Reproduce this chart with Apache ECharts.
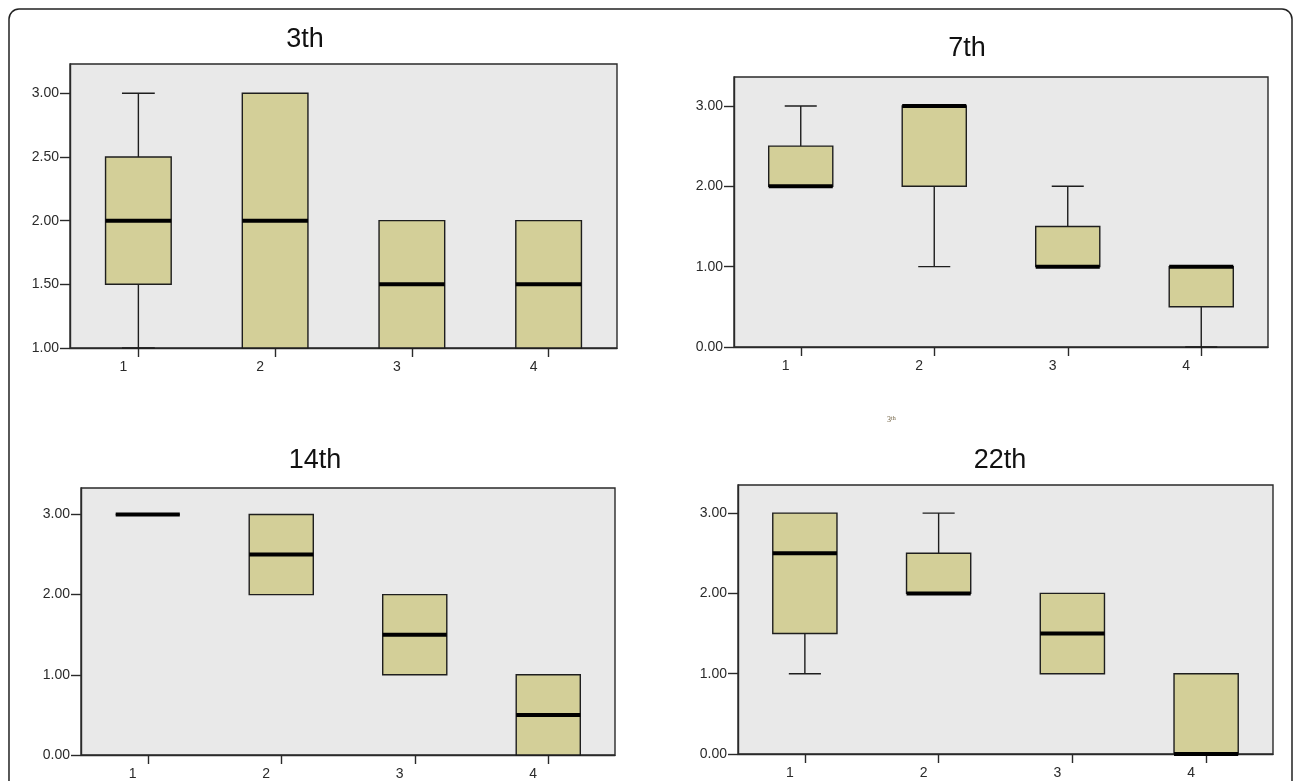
<!DOCTYPE html>
<html>
<head>
<meta charset="utf-8">
<script src="https://cdn.jsdelivr.net/npm/echarts@6/dist/echarts.min.js"></script>
<style>
html,body{margin:0;padding:0;background:#fff;}
#main{width:1296px;height:781px;}
</style>
</head>
<body>
<div id="main"></div>
<script>
// ---- data (box statistics: [min, Q1, median, Q3, max]) ----
const categories = ['1', '2', '3', '4'];
const titles = ['3th', '7th', '14th', '22th'];
const day3 = [[1, 1.5, 2, 2.5, 3], [1, 1, 2, 3, 3], [1, 1, 1.5, 2, 2], [1, 1, 1.5, 2, 2]];
const day7 = [[2, 2, 2, 2.5, 3], [1, 2, 3, 3, 3], [1, 1, 1, 1.5, 2], [0, 0.5, 1, 1, 1]];
const day14 = [[3, 3, 3, 3, 3], [2, 2, 2.5, 3, 3], [1, 1, 1.5, 2, 2], [0, 0, 0.5, 1, 1]];
const day22 = [[1, 1.5, 2.5, 3, 3], [2, 2, 2, 2.5, 3], [1, 1, 1.5, 2, 2], [0, 0, 0, 1, 1]];
const yTicksDay3 = [1, 1.5, 2, 2.5, 3];
const yTicksOther = [0, 1, 2, 3];

const BOX_FILL = '#d3cf98';
const LINE = '#1e1e1e';

const panels = [
  { data: day3,  grid: { left: 70,  top: 64,  width: 547, height: 284 }, min: 1, max: 3.23, ticks: yTicksDay3, interval: 0.5, title: { x: 305, y: 53 } },
  { data: day7,  grid: { left: 734, top: 77,  width: 534, height: 270 }, min: 0, max: 3.36, ticks: yTicksOther, interval: 1, title: { x: 967, y: 62 } },
  { data: day14, grid: { left: 81,  top: 488, width: 534, height: 270 }, min: 0, max: 3.33, ticks: yTicksOther, interval: 1, title: { x: 315, y: 474 } },
  { data: day22, grid: { left: 738, top: 485, width: 535, height: 269 }, min: 0, max: 3.35, ticks: yTicksOther, interval: 1, title: { x: 1000, y: 474 } }
];

function renderItem(params, api) {
  const x = api.value(0);
  const lo = api.value(1), q1 = api.value(2), med = api.value(3), q3 = api.value(4), hi = api.value(5);
  const band = api.size([1, 0])[0];
  const w = band * 0.48;
  const pLo = api.coord([x, lo]);
  const pQ1 = api.coord([x, q1]);
  const pMed = api.coord([x, med]);
  const pQ3 = api.coord([x, q3]);
  const pHi = api.coord([x, hi]);
  const cx = pQ1[0];
  const children = [];
  const lineStyle = { stroke: LINE, lineWidth: 1.4 };
  if (hi > q3) {
    children.push({ type: 'line', shape: { x1: cx, y1: pQ3[1], x2: cx, y2: pHi[1] }, style: lineStyle });
    children.push({ type: 'line', shape: { x1: cx - w / 4, y1: pHi[1], x2: cx + w / 4, y2: pHi[1] }, style: lineStyle });
  }
  if (lo < q1) {
    children.push({ type: 'line', shape: { x1: cx, y1: pQ1[1], x2: cx, y2: pLo[1] }, style: lineStyle });
    children.push({ type: 'line', shape: { x1: cx - w / 4, y1: pLo[1], x2: cx + w / 4, y2: pLo[1] }, style: lineStyle });
  }
  children.push({
    type: 'rect',
    shape: { x: cx - w / 2, y: pQ3[1], width: w, height: pQ1[1] - pQ3[1] },
    style: { fill: BOX_FILL, stroke: LINE, lineWidth: 1.4 }
  });
  children.push({
    type: 'line',
    shape: { x1: cx - w / 2, y1: pMed[1], x2: cx + w / 2, y2: pMed[1] },
    style: { stroke: '#000', lineWidth: 4 }
  });
  return { type: 'group', children: children };
}

const grids = [], xAxes = [], yAxes = [], series = [], graphics = [];
panels.forEach((p, i) => {
  grids.push(Object.assign({ show: true, backgroundColor: '#e9e9e9', borderColor: '#2a2a2a', borderWidth: 1.4 }, p.grid));
  xAxes.push({
    type: 'category', gridIndex: i, data: categories, boundaryGap: true,
    axisLine: { show: true, lineStyle: { color: '#2a2a2a', width: 1.4 } },
    axisTick: { show: true, alignWithLabel: true, length: 9, lineStyle: { color: '#2a2a2a', width: 1.4 } },
    axisLabel: { color: '#2a2a2a', fontSize: 14, fontFamily: 'Liberation Sans', margin: 12, padding: [0, 30, 0, 0] },
    splitLine: { show: false }
  });
  yAxes.push({
    type: 'value', gridIndex: i, min: p.min, max: p.max, interval: p.interval,
    axisLine: { show: true, lineStyle: { color: '#2a2a2a', width: 1.4 } },
    axisTick: { show: true, length: 10, customValues: p.ticks, lineStyle: { color: '#2a2a2a', width: 1.4 } },
    axisLabel: { color: '#2a2a2a', fontSize: 14, fontFamily: 'Liberation Sans', margin: 11, customValues: p.ticks, formatter: v => Number(v).toFixed(2) },
    splitLine: { show: false }
  });
  series.push({
    type: 'custom', xAxisIndex: i, yAxisIndex: i,
    data: p.data.map((d, k) => [k].concat(d)),
    encode: { x: 0, y: [1, 2, 3, 4, 5] },
    renderItem: renderItem,
    clip: false
  });
  graphics.push({
    type: 'text', x: p.title.x, y: p.title.y,
    style: { text: titles[i], fill: '#111', font: '27px "Liberation Sans"', align: 'center', verticalAlign: 'bottom' }
  });
});

// outer rounded frame
graphics.push({
  type: 'rect', shape: { x: 9, y: 9, width: 1283, height: 820, r: 10 },
  style: { fill: 'none', stroke: '#222', lineWidth: 1.5 }, z: -1
});
// small stray label under the 7th panel
graphics.push({
  type: 'text', x: 887, y: 420,
  style: {
    text: '{a|3}{b|th}', verticalAlign: 'middle',
    rich: {
      a: { fontSize: 8, fill: '#6b5a3a', fontFamily: 'Liberation Serif' },
      b: { fontSize: 6, fill: '#6b5a3a', fontFamily: 'Liberation Serif', verticalAlign: 'top', padding: [0, 0, 4, 0] }
    }
  }
});

const chart = echarts.init(document.getElementById('main'), null, { renderer: 'canvas' });
chart.setOption({
  animation: false,
  backgroundColor: '#fff',
  grid: grids,
  xAxis: xAxes,
  yAxis: yAxes,
  series: series,
  graphic: { elements: graphics }
});
</script>
</body>
</html>
